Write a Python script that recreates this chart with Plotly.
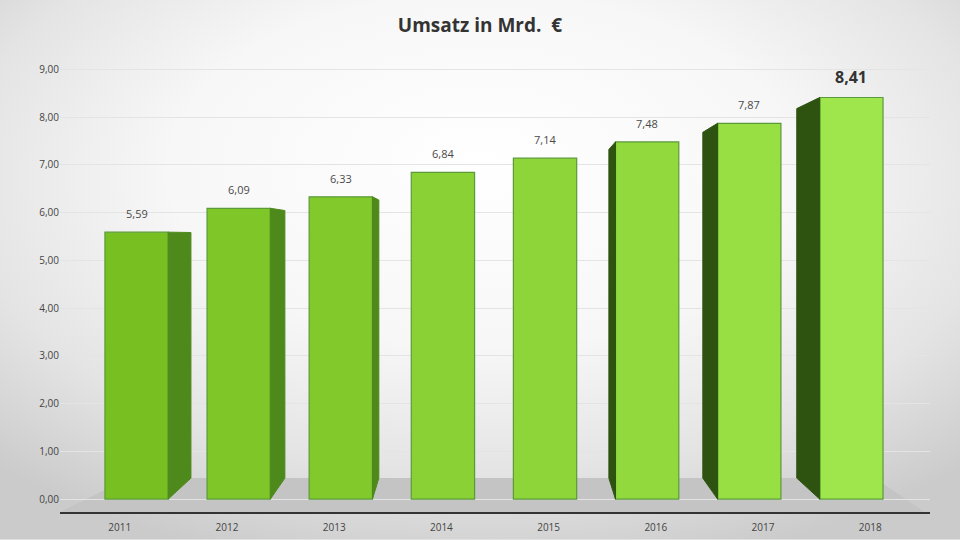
import base64
import plotly.graph_objects as go

# data
years = ["2011", "2012", "2013", "2014", "2015", "2016", "2017", "2018"]
umsatz = [5.59, 6.09, 6.33, 6.84, 7.14, 7.48, 7.87, 8.41]

# fake perspective settings (category units / value units)
bar_w = 0.62
depth = 0.92          # scale of the back edge
vx_right = 3.09       # vanishing x for right-hand side faces
vx_left = 3.88        # vanishing x for left-hand side faces
vy = 5.5              # vanishing y (eye height)
y_min, y_max = -0.27, 9.3


def back(x, y, vx):
    return vx + depth * (x - vx), vy + depth * (y - vy)


fig = go.Figure()

# side faces of the bars
for i, v in enumerate(umsatz):
    xl, xr = i - bar_w / 2, i + bar_w / 2
    if xr < vx_right:
        bx0, by0 = back(xr, 0, vx_right)
        bx1, by1 = back(xr, v, vx_right)
        px = [xr, bx0, bx1, xr, xr]
        py = [0, by0, by1, v, 0]
        col = "#4e891b"
    elif xl > vx_left:
        bx0, by0 = back(xl, 0, vx_left)
        bx1, by1 = back(xl, v, vx_left)
        px = [xl, bx0, bx1, xl, xl]
        py = [0, by0, by1, v, 0]
        col = "#2e5311"
    else:
        continue
    fig.add_trace(go.Scatter(x=px, y=py, fill="toself", fillcolor=col,
                             mode="lines", line=dict(color=col, width=1),
                             hoverinfo="skip", showlegend=False))

# front faces
fig.add_trace(go.Bar(
    x=list(range(len(years))), y=umsatz, width=bar_w,
    marker=dict(color=umsatz, colorscale=[[0, "#78c021"], [1, "#9ee64b"]],
                line=dict(color="#5b9a3a", width=1.2)),
    hovertemplate="%{y:.2f}<extra></extra>", showlegend=False,
))

# value labels
annotations = []
for i, v in enumerate(umsatz):
    last = i == len(umsatz) - 1
    txt = f"{v:.2f}".replace(".", ",")
    annotations.append(dict(
        x=i, y=v, xref="x", yref="y", yanchor="bottom", showarrow=False,
        text=f"<b>{txt}</b>" if last else txt, yshift=8 if last else 9,
        font=dict(size=16 if last else 11, color="#333333" if last else "#4a4a4a"),
    ))

# floor
n = len(years)
fx0, fx1 = -0.75, n - 1 + 0.72
bl = back(fx0 + 0.4, 0, vx_right)
br = back(fx1 - 0.2, 0, vx_left)
floor_path = (f"M {fx0},{y_min} L {fx1},{y_min} L {br[0]},{br[1]} "
              f"L {bl[0]},{bl[1]} Z")

shapes = [
    dict(type="path", path=floor_path, xref="x", yref="y",
         fillcolor="#c4c4c4", line_width=0, layer="below"),
]

# soft radial background
svg = ('<svg xmlns="http://www.w3.org/2000/svg" width="960" height="540">'
       '<defs><radialGradient id="g" cx="50%" cy="35%" r="72%" fx="50%" fy="30%">'
       '<stop offset="0" stop-color="#ffffff"/>'
       '<stop offset="0.45" stop-color="#f7f7f7"/>'
       '<stop offset="0.75" stop-color="#e4e4e4"/>'
       '<stop offset="1" stop-color="#cbcbcb"/>'
       '</radialGradient></defs>'
       '<rect width="960" height="540" fill="url(#g)"/></svg>')
bg_src = "data:image/svg+xml;base64," + base64.b64encode(svg.encode()).decode()

# tick labels sit a little off the bar centre because of the perspective
tick_pos = [i + (i - 3.3) * 0.05 for i in range(n)]

fig.update_layout(
    width=960, height=540,
    title=dict(text="<b>Umsatz in Mrd.  €</b>", x=0.5, xanchor="center", y=0.966,
               font=dict(family="Open Sans", size=19, color="#333333")),
    separators=",.",
    paper_bgcolor="#e6e6e6", plot_bgcolor="rgba(0,0,0,0)",
    margin=dict(l=60, r=30, t=55, b=28),
    font=dict(family="Open Sans", color="#444444"),
    images=[dict(source=bg_src, xref="paper", yref="paper", x=-0.07, y=1.13,
                 sizex=1.11, sizey=1.19, sizing="stretch", layer="below",
                 xanchor="left", yanchor="top")],
    shapes=shapes,
    annotations=annotations,
    xaxis=dict(range=[fx0, fx1 + 0.05], tickvals=tick_pos, ticktext=years,
               showgrid=False, zeroline=False, showline=True, linecolor="#333333",
               linewidth=2, tickfont=dict(size=10, color="#444444"), ticks="",
               ticklabelstandoff=5, automargin=False),
    yaxis=dict(range=[y_min, y_max], tickvals=list(range(10)), tickformat=".2f",
               showgrid=True, gridcolor="#e4e4e4", zeroline=False,
               tickfont=dict(size=10, color="#444444"), ticks="", automargin=False),
    bargap=0.4,
)

fig.write_html("out.html", config={"displayModeBar": False},
               post_script="document.body.style.margin='0';")
